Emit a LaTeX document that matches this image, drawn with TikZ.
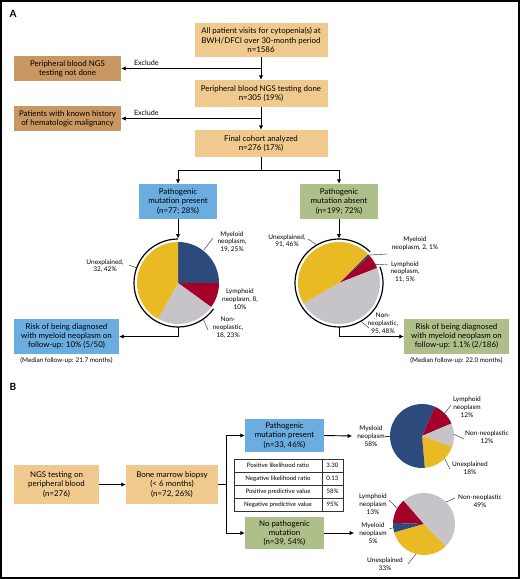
\documentclass[tikz,border=0pt]{standalone}
\usepackage{fontspec}
\setmainfont{Lato}
\usetikzlibrary{arrows.meta}

\definecolor{boxorange}{RGB}{240,201,142}
\definecolor{boxtan}{RGB}{201,151,97}
\definecolor{boxblue}{RGB}{108,173,224}
\definecolor{boxgreen}{RGB}{175,191,137}
\definecolor{pienavy}{RGB}{44,74,124}
\definecolor{piered}{RGB}{164,0,42}
\definecolor{piegray}{RGB}{198,196,201}
\definecolor{pieyellow}{RGB}{233,186,35}

% one wedge of a pie: centre, start, end, radius, colour
\newcommand{\pieslice}[5]{\fill[#5] (#1) -- ([shift={(#2:#4)}]#1) arc[start angle=#2, end angle=#3, radius=#4] -- cycle;}

\tikzset{
  flowbox/.style={fill=#1, align=center, inner sep=0pt, font=\fontsize{7.9}{9.2}\selectfont},
  flowbox/.default=boxorange,
  arrow/.style={line width=0.9pt, -{Latex[length=4.5pt,width=4.5pt]}},
  plain/.style={line width=0.9pt},
  pielabel/.style={align=center, inner sep=0pt, font=\fontsize{6.5}{7.9}\selectfont},
  leader/.style={draw=black!80, line width=0.45pt},
  note/.style={inner sep=0pt, font=\fontsize{6.4}{8}\selectfont},
  exclude/.style={inner sep=0pt, font=\fontsize{7.2}{8}\selectfont},
  tabcell/.style={draw=black!80, line width=0.5pt, fill=white, minimum height=13pt, inner sep=0pt, font=\fontsize{6.1}{7}\selectfont},
  panel/.style={font=\fontsize{10}{12}\selectfont\bfseries}
}

\begin{document}
\begin{tikzpicture}[x=1pt, y=-1pt]
\useasboundingbox (0,0) rectangle (520,579);
\draw[line width=1.2pt] (1,1) rectangle (519,578);

% panel A
\node[panel] (labA) at (13,14) {A};
\node[flowbox, minimum width=133pt, minimum height=34pt] (visits) at (261,40) {All patient visits for cytopenia(s) at\\BWH/DFCI over 30-month period\\n=1586};
\node[flowbox, minimum width=133pt, minimum height=27pt] (ngsdone) at (261,93.5) {Peripheral blood NGS testing done\\n=305 (19\%)};
\node[flowbox, minimum width=133pt, minimum height=27pt] (cohort) at (261,143.5) {Final cohort analyzed\\n=276 (17\%)};
\node[flowbox=boxtan, minimum width=107pt, minimum height=25pt] (notdone) at (67.5,68.5) {Peripheral blood NGS\\testing not done};
\node[flowbox=boxtan, minimum width=107pt, minimum height=25pt] (history) at (67.5,118.5) {Patients with known history\\of hematologic malignancy};
\node[flowbox=boxblue, minimum width=78pt, minimum height=35pt] (present) at (178,201.5) {Pathogenic\\mutation present\\(n=77; 28\%)};
\node[flowbox=boxgreen, minimum width=78pt, minimum height=35pt] (absent) at (339,201.5) {Pathogenic\\mutation absent\\(n=199; 72\%)};
\node[flowbox=boxblue, minimum width=105pt, minimum height=35pt] (risk1) at (66.5,336.5) {Risk of being diagnosed\\with myeloid neoplasm on\\follow-up: 10\% (5/50)};
\node[flowbox=boxgreen, minimum width=105pt, minimum height=35pt] (risk2) at (456.5,336.5) {Risk of being diagnosed\\with myeloid neoplasm on\\follow-up: 1.1\% (2/186)};
\node[note] (med1) at (66.5,361) {(Median follow-up: 21.7 months)};
\node[note] (med2) at (456.5,361) {(Median follow-up: 22.0 months)};

\draw[arrow] (visits) -- (ngsdone);
\draw[arrow] (ngsdone) -- (cohort);
\draw[arrow] (visits.south |- notdone.east) -- node[exclude, pos=0.82, above=2.5pt] {Exclude} (notdone.east);
\draw[arrow] (ngsdone.south |- history.east) -- node[exclude, pos=0.82, above=2.5pt] {Exclude} (history.east);
\draw[plain] (cohort.south) -- ++(0,13) coordinate (fork);
\draw[arrow] (fork) -| (present.north);
\draw[arrow] (fork) -| (absent.north);

% pies of panel A
\coordinate (pie1) at (178,283);
\pieslice{pie1}{-90}{0}{41}{pienavy}
\pieslice{pie1}{0}{36}{41}{piered}
\pieslice{pie1}{36}{119}{41}{piegray}
\pieslice{pie1}{119}{270}{41}{pieyellow}
\draw[line width=1.2pt] ([shift={(-90:44)}]pie1) arc[start angle=-90, end angle=-324, radius=44];

\coordinate (pie2) at (339,283);
\pieslice{pie2}{-45}{-41.4}{41}{pienavy}
\pieslice{pie2}{-41.4}{-21.5}{41}{piered}
\pieslice{pie2}{-21.5}{150.4}{41}{piegray}
\pieslice{pie2}{150.4}{315}{41}{pieyellow}
\draw[line width=1.2pt] ([shift={(-45:44)}]pie2) arc[start angle=-45, end angle=-381.5, radius=44];

\draw[arrow] (present) -- ([shift={(-90:44.5)}]pie1);
\draw[arrow] (absent) -- ([shift={(-90:44.5)}]pie2);
\draw[arrow] ([shift={(90:44)}]pie1) |- (risk1.east);
\draw[arrow] ([shift={(90:44)}]pie2) |- (risk2.west);

\node[pielabel] (myeA) at (232,242) {Myeloid\\neoplasm,\\19, 25\%};
\node[pielabel] (lymA) at (240,299) {Lymphoid\\neoplasm, 8,\\10\%};
\node[pielabel] (nonA) at (228,328) {Non-\\neoplastic,\\18, 23\%};
\node[pielabel] (uneA) at (105,266) {Unexplained,\\32, 42\%};
\draw[leader] (myeA) ++(-19,-4) -- ([shift={(-52:42)}]pie1);
\draw[leader] (nonA) ++(-20,2) -- ([shift={(55:44)}]pie1);
\draw[leader] (uneA) ++(24,-1) -- ([shift={(-160:44)}]pie1);

\node[pielabel] (uneB) at (287,241) {Unexplained,\\91, 46\%};
\node[pielabel] (myeB) at (415,244) {Myeloid\\neoplasm, 2, 1\%};
\node[pielabel] (lymB) at (405,272) {Lymphoid\\neoplasm,\\11, 5\%};
\node[pielabel] (nonB) at (383,324) {Non-\\neoplastic,\\95, 48\%};
\draw[leader] (uneB) ++(21,-2) -- ([shift={(-120:44)}]pie2);
\draw[leader] (myeB) ++(-28,10) -- ([shift={(-43:41)}]pie2);
\draw[leader] (lymB) ++(-17,-7) -- ([shift={(-30:38)}]pie2);
\draw[leader] (nonB) ++(-14,4) -- ([shift={(60:44)}]pie2);

% panel B
\node[panel] (labB) at (13,387) {B};
\node[flowbox, minimum width=85pt, minimum height=39pt] (ngs) at (56.5,484.5) {NGS testing on\\peripheral blood\\(n=276)};
\node[flowbox, minimum width=92pt, minimum height=39pt] (marrow) at (172,484.5) {Bone marrow biopsy\\(< 6 months)\\(n=72, 26\%)};
\node[flowbox=boxblue, minimum width=79pt, minimum height=33pt] (bpresent) at (284.5,435.5) {Pathogenic\\mutation present\\(n=33, 46\%)};
\node[flowbox=boxgreen, minimum width=79pt, minimum height=32pt] (bnone) at (284.5,533) {No pathogenic\\mutation\\(n=39, 54\%)};

\foreach \lab/\val [count=\i] in {Positive likelihood ratio/3.30, Negative likelihood ratio/0.13, Positive predictive value/58\%, Negative predictive value/95\%}{
  \node[tabcell, minimum width=88pt] (row\i) at (278,452.5+13*\i) {\lab};
  \node[tabcell, minimum width=21pt] (val\i) at (332.5,452.5+13*\i) {\val};
}

\draw[arrow] (ngs) -- (marrow);
\draw[plain] (marrow.east) -- ++(8,0) coordinate (split);
\draw[arrow] (split) |- (bpresent.west);
\draw[arrow] (split) |- (bnone.west);

\coordinate (pie3) at (422,436);
\pieslice{pie3}{-66}{-23}{32}{piered}
\pieslice{pie3}{-23}{20}{32}{piegray}
\pieslice{pie3}{20}{85}{32}{pieyellow}
\pieslice{pie3}{85}{294}{32}{pienavy}

\coordinate (pie4) at (424,524);
\pieslice{pie4}{-178}{-131}{31}{piered}
\pieslice{pie4}{-196}{-178}{31}{pienavy}
\pieslice{pie4}{-315}{-196}{31}{pieyellow}
\pieslice{pie4}{-131}{45}{31}{piegray}

\node[pielabel] (myeC) at (371,436) {Myeloid\\neoplasm\\58\%};
\node[pielabel] (lymC) at (467,407) {Lymphoid\\neoplasm\\12\%};
\node[pielabel] (nonC) at (487,437) {Non-neoplastic\\12\%};
\node[pielabel] (uneC) at (470,468) {Unexplained\\18\%};
\draw[leader] (myeC.east) -- ([shift={(180:32)}]pie3);
\draw[leader] (lymC) ++(-16,-2) -- ([shift={(-45:32)}]pie3);
\draw[leader] (nonC) ++(-23,2) -- ([shift={(-3:32)}]pie3);
\draw[leader] (uneC) ++(-20,1) -- ([shift={(45:32)}]pie3);

\node[pielabel] (nonD) at (480,501) {Non-neoplastic\\49\%};
\node[pielabel] (lymD) at (373,504) {Lymphoid\\neoplasm\\13\%};
\node[pielabel] (myeD) at (373,533) {Myeloid\\neoplasm\\5\%};
\node[pielabel] (uneD) at (385,564) {Unexplained\\33\%};
\draw[leader] (nonD) ++(-25,-3) -- ([shift={(-45:31)}]pie4);
\draw[leader] (lymD) ++(16,-4) -- ([shift={(-150:31)}]pie4);
\draw[leader] (myeD) ++(16,-4) -- ([shift={(-187:31)}]pie4);
\draw[leader] (uneD) ++(23,0) -- ([shift={(-255:31)}]pie4);

\draw[arrow] (bpresent.east) -- ([xshift=-5pt]myeC.west);
\draw[arrow] (bnone.east) -- ([xshift=-5pt]myeD.west);
\end{tikzpicture}
\end{document}
